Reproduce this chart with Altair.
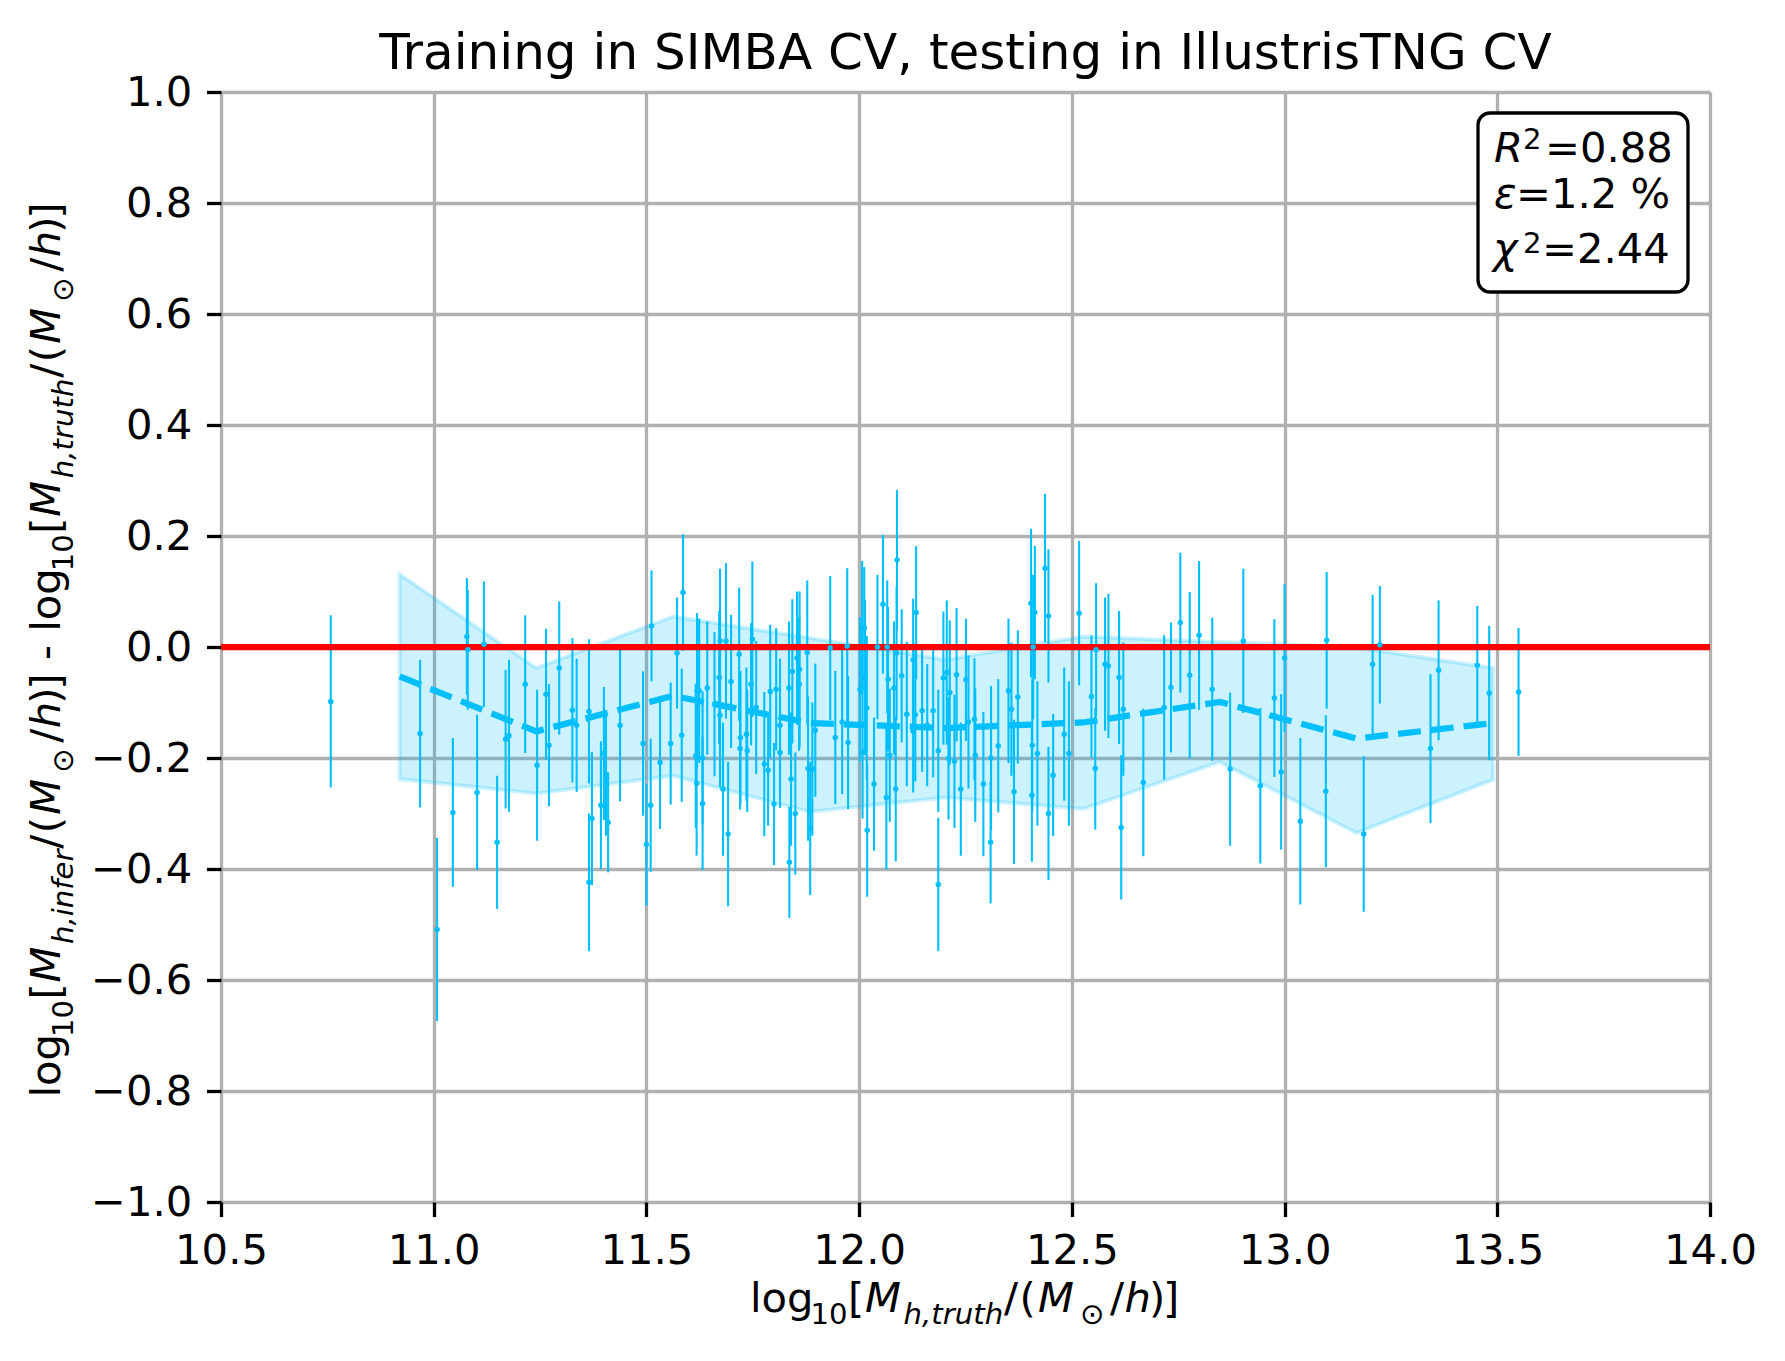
import altair as alt
import pandas as pd

# ---------------- data ----------------
x_truth = [
    10.758, 10.968, 11.008, 11.045, 11.078, 11.080, 11.102, 11.118, 11.149, 11.169,
    11.177, 11.215, 11.243, 11.264, 11.271, 11.295, 11.326, 11.336, 11.365, 11.365,
    11.372, 11.393, 11.400, 11.405, 11.410, 11.438, 11.492, 11.500, 11.510, 11.512,
    11.532, 11.557, 11.572, 11.583, 11.586, 11.616, 11.618, 11.619, 11.624, 11.632,
    11.632, 11.643, 11.660, 11.671, 11.673, 11.673, 11.680, 11.687, 11.692, 11.699,
    11.718, 11.720, 11.721, 11.735, 11.737, 11.746, 11.749, 11.758, 11.777, 11.786,
    11.791, 11.800, 11.805, 11.814, 11.814, 11.835, 11.836, 11.840, 11.843, 11.850,
    11.854, 11.859, 11.860, 11.878, 11.880, 11.885, 11.890, 11.897, 11.932, 11.944,
    11.960, 11.972, 11.974, 12.002, 12.007, 12.008, 12.012, 12.014, 12.018, 12.019,
    12.035, 12.043, 12.056, 12.064, 12.066, 12.068, 12.072, 12.082, 12.086, 12.088,
    12.089, 12.100, 12.112, 12.127, 12.127, 12.132, 12.134, 12.148, 12.160, 12.174,
    12.186, 12.186, 12.198, 12.206, 12.210, 12.213, 12.224, 12.229, 12.239, 12.251,
    12.257, 12.271, 12.273, 12.292, 12.309, 12.310, 12.327, 12.351, 12.358, 12.364,
    12.373, 12.404, 12.406, 12.407, 12.409, 12.413, 12.419, 12.437, 12.445, 12.445,
    12.456, 12.482, 12.493, 12.517, 12.546, 12.555, 12.557, 12.578, 12.586, 12.611,
    12.616, 12.621, 12.668, 12.717, 12.733, 12.755, 12.777, 12.799, 12.830, 12.872,
    12.903, 12.943, 12.976, 12.992, 13.000, 13.037, 13.097, 13.099, 13.186, 13.207,
    13.224, 13.343, 13.362, 13.453, 13.481, 13.550,
]
y_resid = [
    -0.098, -0.156, -0.509, -0.298, 0.019, -0.005, -0.262, 0.005, -0.352, -0.166,
    -0.160, -0.067, -0.213, -0.085, -0.177, -0.038, -0.114, -0.141, -0.116, -0.424,
    -0.309, -0.285, -0.192, -0.230, -0.316, -0.141, -0.174, -0.356, -0.285, 0.038,
    -0.208, -0.174, -0.011, -0.159, 0.098, -0.196, -0.246, -0.079, -0.079, -0.282,
    -0.200, -0.074, -0.103, -0.055, 0.011, -0.123, -0.256, 0.011, -0.337, -0.062,
    -0.013, -0.183, -0.163, -0.157, -0.187, -0.067, 0.014, -0.109, -0.211, -0.222,
    -0.080, -0.283, -0.076, -0.141, -0.190, -0.074, -0.388, -0.238, -0.044, -0.300,
    -0.020, -0.067, -0.040, -0.010, -0.219, -0.327, -0.220, -0.150, -0.002, -0.163,
    -0.135, 0.002, -0.172, -0.076, 0.035, -0.189, 0.034, -0.055, -0.110, -0.330,
    -0.247, 0.000, 0.077, -0.271, 0.000, -0.058, -0.195, -0.074, -0.256, -0.011,
    0.157, -0.052, -0.121, -0.023, -0.152, -0.122, 0.062, -0.115, -0.141, -0.115,
    -0.428, -0.187, -0.056, -0.046, -0.201, -0.082, -0.206, -0.050, -0.256, -0.059,
    -0.135, -0.130, -0.195, -0.247, -0.352, -0.200, -0.178, -0.079, -0.112, -0.261,
    -0.090, 0.079, -0.267, -0.177, 0.000, 0.062, -0.192, 0.142, 0.056, -0.300,
    -0.231, -0.157, -0.192, 0.061, -0.089, -0.219, -0.005, -0.031, -0.034, -0.055,
    -0.325, -0.112, -0.244, -0.109, -0.073, 0.044, -0.051, 0.021, -0.076, -0.220,
    0.011, -0.250, -0.092, -0.225, -0.020, -0.314, -0.260, 0.012, -0.337, -0.031,
    0.004, -0.183, -0.042, -0.033, -0.083, -0.081,
]
y_err = [
    0.155, 0.133, 0.165, 0.134, 0.105, 0.108, 0.140, 0.113, 0.120, 0.125,
    0.137, 0.124, 0.136, 0.118, 0.110, 0.120, 0.130, 0.120, 0.130, 0.124,
    0.120, 0.115, 0.120, 0.110, 0.090, 0.137, 0.130, 0.110, 0.120, 0.100,
    0.120, 0.110, 0.100, 0.120, 0.105, 0.130, 0.130, 0.140, 0.130, 0.120,
    0.120, 0.120, 0.130, 0.120, 0.130, 0.130, 0.120, 0.140, 0.130, 0.120,
    0.120, 0.110, 0.120, 0.120, 0.110, 0.110, 0.140, 0.120, 0.130, 0.100,
    0.120, 0.110, 0.110, 0.120, 0.100, 0.120, 0.100, 0.120, 0.130, 0.110,
    0.120, 0.120, 0.140, 0.130, 0.130, 0.120, 0.120, 0.120, 0.130, 0.120,
    0.130, 0.140, 0.120, 0.130, 0.120, 0.120, 0.110, 0.140, 0.130, 0.120,
    0.120, 0.130, 0.125, 0.130, 0.120, 0.130, 0.120, 0.120, 0.130, 0.120,
    0.126, 0.120, 0.130, 0.110, 0.110, 0.120, 0.120, 0.110, 0.110, 0.120,
    0.120, 0.110, 0.120, 0.130, 0.110, 0.130, 0.120, 0.120, 0.120, 0.110,
    0.120, 0.110, 0.120, 0.130, 0.110, 0.130, 0.120, 0.130, 0.120, 0.130,
    0.120, 0.134, 0.120, 0.120, 0.130, 0.120, 0.130, 0.134, 0.120, 0.120,
    0.110, 0.120, 0.130, 0.130, 0.110, 0.110, 0.120, 0.120, 0.130, 0.120,
    0.130, 0.120, 0.133, 0.130, 0.117, 0.126, 0.150, 0.134, 0.129, 0.138,
    0.130, 0.140, 0.142, 0.140, 0.133, 0.150, 0.137, 0.123, 0.140, 0.125,
    0.106, 0.134, 0.126, 0.107, 0.121, 0.115,
]

bin_x = [10.92, 11.241, 11.563, 11.884, 12.205, 12.526, 12.848, 13.169, 13.49]
bin_mean = [-0.053, -0.152, -0.088, -0.137, -0.146, -0.136, -0.099, -0.165, -0.137]
bin_upper = [0.131, -0.038, 0.055, 0.016, -0.023, 0.019, 0.009, -0.001, -0.038]
bin_lower = [-0.238, -0.264, -0.232, -0.297, -0.271, -0.292, -0.207, -0.335, -0.239]

x_ticks = [10.5, 11.0, 11.5, 12.0, 12.5, 13.0, 13.5, 14.0]
y_ticks = [-1.0, -0.8, -0.6, -0.4, -0.2, 0.0, 0.2, 0.4, 0.6, 0.8, 1.0]

title_text = "Training in SIMBA CV, testing in IllustrisTNG CV"
stat_r2 = "=0.88"
stat_eps = "=1.2 %"
stat_chi2 = "=2.44"

# ---------------- styling ----------------
W, H = 1489, 1110
CYAN = "#00bfff"
FONT = "DejaVu Sans"
FS = 41.7
SUB = 29.2
LW = 3.3

pts = pd.DataFrame({"x": x_truth, "y": y_resid, "e": y_err})
pts["lo"] = pts["y"] - pts["e"]
pts["hi"] = pts["y"] + pts["e"]
bins = pd.DataFrame({"x": bin_x, "mean": bin_mean, "up": bin_upper, "low": bin_lower})
zero_df = pd.DataFrame({"zero": [0.0]})
ONE = pd.DataFrame({"k": [0]})

xs = alt.Scale(domain=[10.5, 14.0], nice=False, zero=False)
ys = alt.Scale(domain=[-1.0, 1.0], nice=False, zero=False)

axis_common = dict(
    grid=True, gridColor="#b0b0b0", gridWidth=LW, domain=False,
    ticks=True, tickSize=14.6, tickWidth=LW, tickColor="black",
    labelFont=FONT, labelFontSize=FS, labelColor="black", format=".1f",
    labelOverlap=False, labelFlush=False, labelBound=False, title=None,
)
x_axis = alt.Axis(values=x_ticks, labelPadding=13.5, **axis_common)
y_axis = alt.Axis(values=y_ticks, labelPadding=14.6, **axis_common)


def X(f):
    return alt.X(f"{f}:Q", scale=xs, axis=x_axis)


def Y(f):
    return alt.Y(f"{f}:Q", scale=ys, axis=y_axis)


band = alt.Chart(bins).mark_area(
    fill=CYAN, fillOpacity=0.2, stroke=CYAN, strokeOpacity=0.2, strokeWidth=4
).encode(x=X("x"), y=Y("up"), y2="low:Q")

dashed = alt.Chart(bins).mark_line(
    color=CYAN, strokeWidth=6.25, strokeDash=[23, 10]
).encode(x=X("x"), y=Y("mean"))

bars = alt.Chart(pts).mark_rule(color=CYAN, strokeWidth=2.1).encode(
    x=X("x"), y=Y("lo"), y2="hi:Q"
)

red = alt.Chart(zero_df).mark_rule(color="red", strokeWidth=6.25).encode(y=Y("zero"))

dots = alt.Chart(pts).mark_circle(color=CYAN, size=30, opacity=1).encode(
    x=X("x"), y=Y("y")
)


def txt(s, x, y, size=FS, italic=False, angle=0, align="left"):
    return alt.Chart(ONE).mark_text(
        font=FONT, fontSize=size, fontStyle="italic" if italic else "normal",
        align=align, baseline="alphabetic", angle=angle, color="black",
    ).encode(x=alt.value(x), y=alt.value(y), text=alt.value(s))


layers = [band, dashed, bars, red, dots]

# title
layers.append(txt(title_text, W / 2, -23, size=50, align="center"))

# x-axis title pieces: (text, offset, subscript, italic)
part_truth = [
    ("log", 0, False, False), ("10", 60.5, True, False), ("[", 98, False, False),
    ("M", 115, False, True), ("h,truth", 153.5, True, True), ("/", 254, False, False),
    ("(", 269.5, False, False), ("M", 288, False, True), ("\u2299", 330, True, False),
    ("/", 360, False, False), ("h", 374.5, False, True), (")", 399, False, False),
    ("]", 413, False, False),
]
TRUTH_LEN = 429.3
XT0, XBASE, SUBSHIFT = 529, 1219.7, 12.6
for s, off, sub, it in part_truth:
    layers.append(txt(s, XT0 + off, XBASE + (SUBSHIFT if sub else 0),
                      size=SUB if sub else FS, italic=it))

# y-axis title pieces (rotated)
d = 5.05
part_infer = [(s, off if off < 150 else off - d, sub, it) for s, off, sub, it in part_truth]
part_infer[4] = ("h,infer", 153.5, True, True)
INFER_LEN = TRUTH_LEN - d
ypieces = list(part_infer) + [("-", INFER_LEN + 13.3, False, False)]
B_START = INFER_LEN + 13.3 + 15.0 + 13.3
ypieces += [(s, off + B_START, sub, it) for s, off, sub, it in part_truth]
total_len = B_START + TRUTH_LEN
ystart = H / 2 + total_len / 2 + 3
YBASE = -161
for s, off, sub, it in ypieces:
    layers.append(txt(s, YBASE + (SUBSHIFT if sub else 0), ystart - off,
                      size=SUB if sub else FS, italic=it, angle=270))

# stats box
layers.append(
    alt.Chart(ONE).mark_rect(fill="white", stroke="black", strokeWidth=LW, cornerRadius=12)
    .encode(x=alt.value(1257), x2=alt.value(1467), y=alt.value(21), y2=alt.value(200))
)
layers += [
    txt("R", 1273, 69.7, italic=True), txt("2", 1302, 57.3, size=SUB), txt(stat_r2, 1324, 69.7),
    txt("\u03b5", 1273, 116.3, italic=True), txt(stat_eps, 1295, 116.3),
    txt("\u03c7", 1272, 171.3, italic=True), txt("2", 1302, 161.3, size=SUB), txt(stat_chi2, 1321, 171.3),
]

chart = alt.layer(*layers).properties(
    width=W, height=H,
    padding={"left": 213, "top": 84, "right": 60, "bottom": 140},
    autosize=alt.AutoSizeParams(type="none"),
).configure_view(stroke="black", strokeWidth=LW).configure(background="white")

chart.save("out.html", embed_options={"renderer": "svg", "actions": False})
